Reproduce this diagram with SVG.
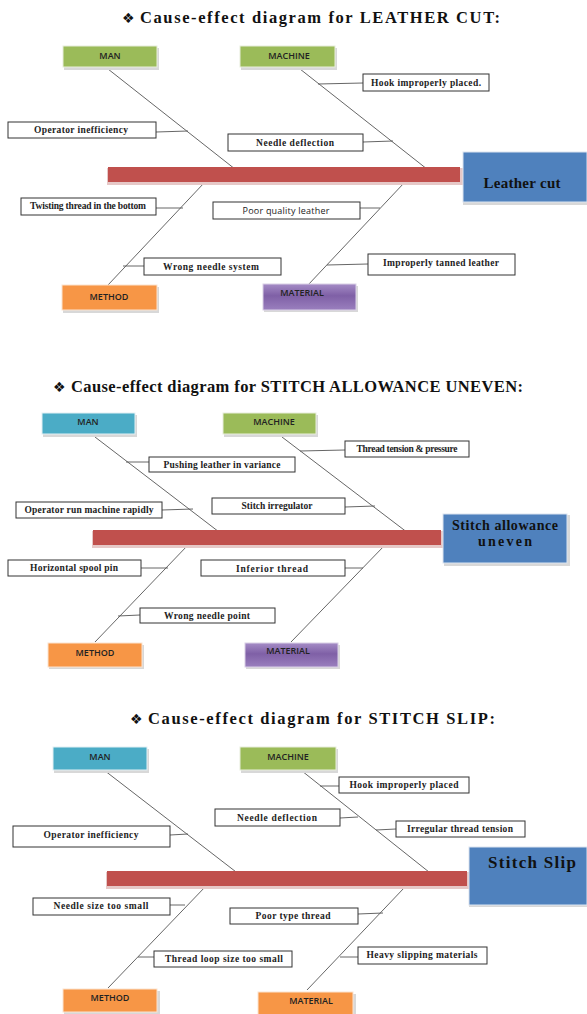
<svg xmlns="http://www.w3.org/2000/svg" width="587" height="1014" viewBox="0 0 587 1014">
<defs>
<linearGradient id="purp" x1="0" y1="0" x2="0" y2="1">
<stop offset="0" stop-color="#a58cc6"/><stop offset="0.45" stop-color="#7f60a6"/><stop offset="1" stop-color="#9a7fbe"/>
</linearGradient>
<style>
.title{font-family:"Liberation Serif",serif;font-weight:bold;font-size:16.5px;fill:#111}
.orn{font-family:"DejaVu Sans",sans-serif;font-weight:normal;font-size:14px}
.cat{font-family:"Open Sans","Liberation Sans",sans-serif;font-weight:600;font-size:9px;fill:#222;text-anchor:middle}
.lbl{font-family:"Liberation Serif",serif;font-weight:bold;font-size:9.5px;fill:#222;text-anchor:middle}
.lbls{font-family:"Open Sans","Liberation Sans",sans-serif;font-size:9px;fill:#222;text-anchor:middle}
.eff{font-family:"Liberation Serif",serif;font-weight:bold;fill:#111;text-anchor:middle}
.box{fill:#fff;stroke:#333;stroke-width:1}
.sh{fill:#d8d8d8}
.green{fill:#9bbb59;stroke:#e8eedc;stroke-width:1}
.teal{fill:#4bacc6;stroke:#e2f0f4;stroke-width:1}
.orange{fill:#f79646;stroke:#fbe3d0;stroke-width:1}
.purple{fill:url(#purp);stroke:#d9d0e6;stroke-width:1}
.spine{fill:#c0504d}
.spsh{fill:#e6c8c7}
.blue{fill:#4f81bd;stroke:#dbe4f0;stroke-width:1}
.ln{stroke:#555;stroke-width:0.9;fill:none}
</style>
</defs>

<!-- Diagram 1 -->
<g id="title1"><text class="title" x="122" y="23"><tspan class="orn">❖</tspan><tspan x="140" textLength="360" lengthAdjust="spacing">Cause-effect diagram for LEATHER CUT:</tspan></text></g>
<g id="d1-connectors">
<line class="ln" x1="108" y1="69" x2="240" y2="173"/>
<line class="ln" x1="300" y1="69" x2="432" y2="173"/>
<line class="ln" x1="204" y1="183" x2="108" y2="285"/>
<line class="ln" x1="404" y1="183" x2="308" y2="285"/>
<line class="ln" x1="156" y1="132" x2="188" y2="131"/>
<line class="ln" x1="363" y1="142" x2="393" y2="141"/>
<line class="ln" x1="318" y1="84" x2="363" y2="83"/>
<line class="ln" x1="156" y1="208" x2="183" y2="208"/>
<line class="ln" x1="123" y1="266" x2="144" y2="266"/>
<line class="ln" x1="360" y1="208" x2="380" y2="208"/>
<line class="ln" x1="327" y1="265" x2="368" y2="264"/>
</g>
<g id="d1-spine"><rect class="spsh" x="107" y="168" width="356" height="17"/><rect class="spine" x="108" y="167" width="352" height="15"/></g>
<g id="d1-man"><rect class="sh" x="64" y="48" width="95" height="22"/><rect class="green" x="63" y="46" width="94" height="21"/><text class="cat" x="110" y="59">MAN</text></g>
<g id="d1-machine"><rect class="sh" x="241" y="48" width="96" height="22"/><rect class="green" x="240" y="46" width="95" height="21"/><text class="cat" x="289" y="59">MACHINE</text></g>
<g id="d1-method"><rect class="sh" x="63" y="287" width="96" height="26"/><rect class="orange" x="62" y="285" width="95" height="25"/><text class="cat" x="109" y="300">METHOD</text></g>
<g id="d1-material"><rect class="sh" x="264" y="286" width="94" height="26"/><rect class="purple" x="263" y="284" width="93" height="26"/><text class="cat" x="302" y="296">MATERIAL</text></g>
<g id="d1-effect"><rect class="sh" x="463" y="153" width="124" height="52"/><rect class="blue" x="463" y="152" width="124" height="50"/><text class="eff" x="522" y="188" font-size="15" textLength="77" lengthAdjust="spacing">Leather cut</text></g>
<g id="d1-c1"><rect class="box" x="8" y="122" width="148" height="16"/><text class="lbl" x="81" y="133" textLength="94" lengthAdjust="spacing">Operator inefficiency</text></g>
<g id="d1-c2"><rect class="box" x="228" y="134" width="135" height="17"/><text class="lbl" x="295" y="146" textLength="78" lengthAdjust="spacing">Needle deflection</text></g>
<g id="d1-c3"><rect class="box" x="363" y="74" width="126" height="17"/><text class="lbl" x="426" y="86" textLength="110" lengthAdjust="spacing">Hook improperly placed.</text></g>
<g id="d1-c4"><rect class="box" x="21" y="198" width="135" height="17"/><text class="lbl" x="88" y="209" textLength="116" lengthAdjust="spacing">Twisting thread in the bottom</text></g>
<g id="d1-c5"><rect class="box" x="144" y="258" width="137" height="17"/><text class="lbl" x="211" y="270" textLength="96" lengthAdjust="spacing">Wrong needle system</text></g>
<g id="d1-c6"><rect class="box" x="213" y="202" width="147" height="17"/><text class="lbls" x="286" y="214" textLength="87" lengthAdjust="spacing">Poor quality leather</text></g>
<g id="d1-c7"><rect class="box" x="368" y="254" width="147" height="21"/><text class="lbl" x="441" y="266" textLength="116" lengthAdjust="spacing">Improperly tanned leather</text></g>

<!-- Diagram 2 -->
<g id="title2"><text class="title" x="53" y="392"><tspan class="orn">❖</tspan><tspan x="71" textLength="452" lengthAdjust="spacing">Cause-effect diagram for STITCH ALLOWANCE UNEVEN:</tspan></text></g>
<g id="d2-connectors">
<line class="ln" x1="95" y1="437" x2="223" y2="535"/>
<line class="ln" x1="282" y1="437" x2="412" y2="536"/>
<line class="ln" x1="188" y1="545" x2="95" y2="642"/>
<line class="ln" x1="385" y1="545" x2="291" y2="642"/>
<line class="ln" x1="126" y1="462" x2="149" y2="462"/>
<line class="ln" x1="162" y1="510" x2="193" y2="509"/>
<line class="ln" x1="345" y1="507" x2="375" y2="506"/>
<line class="ln" x1="300" y1="451" x2="345" y2="450"/>
<line class="ln" x1="141" y1="568" x2="168" y2="568"/>
<line class="ln" x1="118" y1="616" x2="140" y2="615"/>
<line class="ln" x1="345" y1="568" x2="363" y2="568"/>
</g>
<g id="d2-spine"><rect class="spsh" x="92" y="531" width="351" height="17"/><rect class="spine" x="93" y="530" width="348" height="15"/></g>
<g id="d2-man"><rect class="sh" x="43" y="415" width="94" height="22"/><rect class="teal" x="42" y="413" width="93" height="21"/><text class="cat" x="88" y="425">MAN</text></g>
<g id="d2-machine"><rect class="sh" x="224" y="415" width="94" height="22"/><rect class="green" x="223" y="413" width="93" height="21"/><text class="cat" x="274" y="425">MACHINE</text></g>
<g id="d2-method"><rect class="sh" x="49" y="645" width="95" height="24"/><rect class="orange" x="48" y="643" width="94" height="24"/><text class="cat" x="95" y="656">METHOD</text></g>
<g id="d2-material"><rect class="sh" x="246" y="645" width="94" height="24"/><rect class="purple" x="245" y="643" width="93" height="24"/><text class="cat" x="288" y="654">MATERIAL</text></g>
<g id="d2-effect"><rect class="sh" x="444" y="515" width="126" height="51"/><rect class="blue" x="443" y="514" width="124" height="49"/><text class="eff" x="505" y="530" font-size="14" textLength="106" lengthAdjust="spacing">Stitch allowance</text><text class="eff" x="505" y="546" font-size="14" textLength="54" lengthAdjust="spacing">uneven</text></g>
<g id="d2-c1"><rect class="box" x="149" y="457" width="146" height="15"/><text class="lbl" x="222" y="468" textLength="117" lengthAdjust="spacing">Pushing leather in variance</text></g>
<g id="d2-c2"><rect class="box" x="16" y="502" width="146" height="16"/><text class="lbl" x="89" y="513" textLength="129" lengthAdjust="spacing">Operator run machine rapidly</text></g>
<g id="d2-c3"><rect class="box" x="212" y="498" width="133" height="16"/><text class="lbl" x="277" y="509" textLength="71" lengthAdjust="spacing">Stitch irregulator</text></g>
<g id="d2-c4"><rect class="box" x="345" y="441" width="124" height="16"/><text class="lbl" x="407" y="452" textLength="101" lengthAdjust="spacing">Thread tension &amp; pressure</text></g>
<g id="d2-c5"><rect class="box" x="8" y="560" width="133" height="16"/><text class="lbl" x="74" y="571" textLength="88" lengthAdjust="spacing">Horizontal spool pin</text></g>
<g id="d2-c6"><rect class="box" x="140" y="608" width="135" height="15"/><text class="lbl" x="207" y="619" textLength="86" lengthAdjust="spacing">Wrong needle point</text></g>
<g id="d2-c7"><rect class="box" x="201" y="560" width="144" height="16"/><text class="lbl" x="272" y="572" font-size="11.5" textLength="72" lengthAdjust="spacing">Inferior thread</text></g>

<!-- Diagram 3 -->
<g id="title3"><text class="title" x="130" y="724"><tspan class="orn">❖</tspan><tspan x="148" textLength="347" lengthAdjust="spacing">Cause-effect diagram for STITCH SLIP:</tspan></text></g>
<g id="d3-connectors">
<line class="ln" x1="100" y1="767" x2="240" y2="875"/>
<line class="ln" x1="302" y1="771" x2="434" y2="876"/>
<line class="ln" x1="206" y1="886" x2="108" y2="988"/>
<line class="ln" x1="404" y1="888" x2="307" y2="990"/>
<line class="ln" x1="170" y1="835" x2="188" y2="834"/>
<line class="ln" x1="340" y1="818" x2="358" y2="817"/>
<line class="ln" x1="320" y1="786" x2="339" y2="786"/>
<line class="ln" x1="376" y1="830" x2="396" y2="829"/>
<line class="ln" x1="170" y1="905" x2="185" y2="905"/>
<line class="ln" x1="138" y1="957" x2="154" y2="957"/>
<line class="ln" x1="358" y1="914" x2="383" y2="913"/>
<line class="ln" x1="340" y1="957" x2="358" y2="957"/>
</g>
<g id="d3-spine"><rect class="spsh" x="106" y="872" width="364" height="17"/><rect class="spine" x="107" y="871" width="360" height="15"/></g>
<g id="d3-man"><rect class="sh" x="54" y="749" width="95" height="24"/><rect class="teal" x="53" y="747" width="94" height="23"/><text class="cat" x="100" y="760">MAN</text></g>
<g id="d3-machine"><rect class="sh" x="241" y="749" width="97" height="24"/><rect class="green" x="240" y="747" width="96" height="23"/><text class="cat" x="288" y="760">MACHINE</text></g>
<g id="d3-method"><rect class="sh" x="64" y="991" width="96" height="23"/><rect class="orange" x="63" y="989" width="94" height="23"/><text class="cat" x="110" y="1001">METHOD</text></g>
<g id="d3-material"><rect class="sh" x="259" y="994" width="97" height="20"/><rect class="orange" x="258" y="992" width="95" height="23"/><text class="cat" x="311" y="1004">MATERIAL</text></g>
<g id="d3-effect"><rect class="sh" x="469" y="848" width="118" height="59"/><rect class="blue" x="469" y="847" width="118" height="58"/><text class="eff" x="532" y="868" font-size="17" textLength="88" lengthAdjust="spacing">Stitch Slip</text></g>
<g id="d3-c1"><rect class="box" x="13" y="826" width="157" height="21"/><text class="lbl" x="91" y="838" textLength="95" lengthAdjust="spacing">Operator inefficiency</text></g>
<g id="d3-c2"><rect class="box" x="215" y="809" width="125" height="17"/><text class="lbl" x="277" y="821" textLength="80" lengthAdjust="spacing">Needle deflection</text></g>
<g id="d3-c3"><rect class="box" x="339" y="777" width="130" height="16"/><text class="lbl" x="404" y="788" textLength="109" lengthAdjust="spacing">Hook improperly placed</text></g>
<g id="d3-c4"><rect class="box" x="396" y="821" width="129" height="16"/><text class="lbl" x="460" y="832" textLength="106" lengthAdjust="spacing">Irregular thread tension</text></g>
<g id="d3-c5"><rect class="box" x="33" y="898" width="137" height="17"/><text class="lbl" x="101" y="909" textLength="95" lengthAdjust="spacing">Needle size too small</text></g>
<g id="d3-c6"><rect class="box" x="154" y="951" width="138" height="16"/><text class="lbl" x="224" y="962" textLength="118" lengthAdjust="spacing">Thread loop size too small</text></g>
<g id="d3-c7"><rect class="box" x="230" y="908" width="128" height="16"/><text class="lbl" x="293" y="919" textLength="75" lengthAdjust="spacing">Poor type thread</text></g>
<g id="d3-c8"><rect class="box" x="358" y="947" width="129" height="17"/><text class="lbl" x="422" y="958" textLength="111" lengthAdjust="spacing">Heavy slipping materials</text></g>
</svg>
